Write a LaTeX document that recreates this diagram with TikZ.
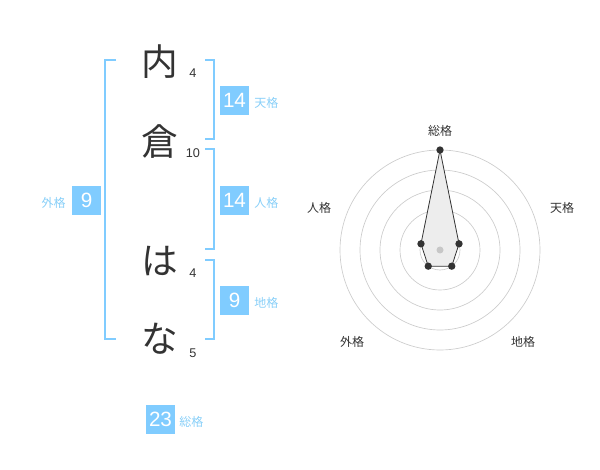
\documentclass[tikz,border=0pt]{standalone}
\usepackage{fontspec}
\setmainfont{Liberation Sans}
\newfontfamily\jp{Noto Sans CJK JP}
\definecolor{boxblue}{HTML}{80CCFF}
\definecolor{lblblue}{HTML}{88CFF8}
\definecolor{ink}{HTML}{333333}
\definecolor{ringgray}{HTML}{CCCCCC}
\begin{document}
\begin{tikzpicture}[x=0.75pt,y=-0.75pt,
  bigchar/.style={font=\jp\fontsize{27.5}{28}\selectfont, text=ink, inner sep=0pt},
  stroke/.style={font=\fontsize{9.5}{10}\selectfont, text=ink, inner sep=0pt},
  numbox/.style={fill=boxblue, text=white, minimum width=21.75pt, minimum height=21.75pt, inner sep=0pt, font=\fontsize{15.5}{16}\selectfont},
  kaku/.style={font=\jp\fontsize{9}{9}\selectfont, text=lblblue, inner sep=0pt},
  brk/.style={draw=boxblue, line width=1.5pt},
  ring/.style={draw=ringgray, line width=0.5pt},
  axlbl/.style={font=\jp\fontsize{9}{9}\selectfont, text=ink, inner sep=0pt},
  dot/.style={circle, fill=ink, inner sep=0pt, minimum size=5.5pt}]
\useasboundingbox (0,0) rectangle (600,470);
% characters
\node[bigchar] (c1) at (160,62) {内};
\node[bigchar] (c2) at (160,142) {倉};
\node[bigchar] (c3) at (160,261) {は};
\node[bigchar] (c4) at (160,339) {な};
\node[stroke] (s1) at (193,73) {4};
\node[stroke] (s2) at (193,153) {10};
\node[stroke] (s3) at (193,273) {4};
\node[stroke] (s4) at (193,353) {5};
% brackets
\draw[brk] (116,60) -- (105,60) -- (105,339) -- (116,339);
\draw[brk] (205,60) -- (214,60) -- (214,139) -- (205,139);
\draw[brk] (205,149) -- (214,149) -- (214,249) -- (205,249);
\draw[brk] (205,260) -- (214,260) -- (214,339) -- (205,339);
% boxes
\node[numbox] (ten) at (234.5,100.5) {14};
\node[kaku, anchor=west] (tenl) at (254,103) {天格};
\node[numbox] (jin) at (234.5,200.5) {14};
\node[kaku, anchor=west] (jinl) at (254,203) {人格};
\node[numbox] (chi) at (234.5,300.5) {9};
\node[kaku, anchor=west] (chil) at (254,303) {地格};
\node[numbox] (gai) at (86.7,200.5) {9};
\node[kaku, anchor=east] (gail) at (66,203) {外格};
\node[numbox] (sou) at (160.5,419.5) {23};
\node[kaku, anchor=west] (soul) at (179,422) {総格};
% radar
\coordinate (O) at (440,250);
\foreach \r in {20,40,60,80,100} \draw[ring] (O) circle[radius=\r];
\path (O) ++(0,-100) coordinate (pS);
\path (O) ++({20*cos(18)},{-20*sin(18)}) coordinate (pT);
\path (O) ++({20*cos(54)},{20*sin(54)}) coordinate (pC);
\path (O) ++({-20*cos(54)},{20*sin(54)}) coordinate (pG);
\path (O) ++({-20*cos(18)},{-20*sin(18)}) coordinate (pJ);
\draw[fill=black!7, draw=ink, line width=0.6pt] (pS) -- (pT) -- (pC) -- (pG) -- (pJ) -- cycle;
\fill[black!22] (O) circle[radius=3.5];
\foreach \p in {pS,pT,pC,pG,pJ} \node[dot] at (\p) {};
\node[axlbl] (aS) at (440,131) {総格};
\node[axlbl] (aT) at (562,208) {天格};
\node[axlbl] (aJ) at (319,208) {人格};
\node[axlbl] (aG) at (352,342) {外格};
\node[axlbl] (aC) at (523,342) {地格};
\end{tikzpicture}
\end{document}
